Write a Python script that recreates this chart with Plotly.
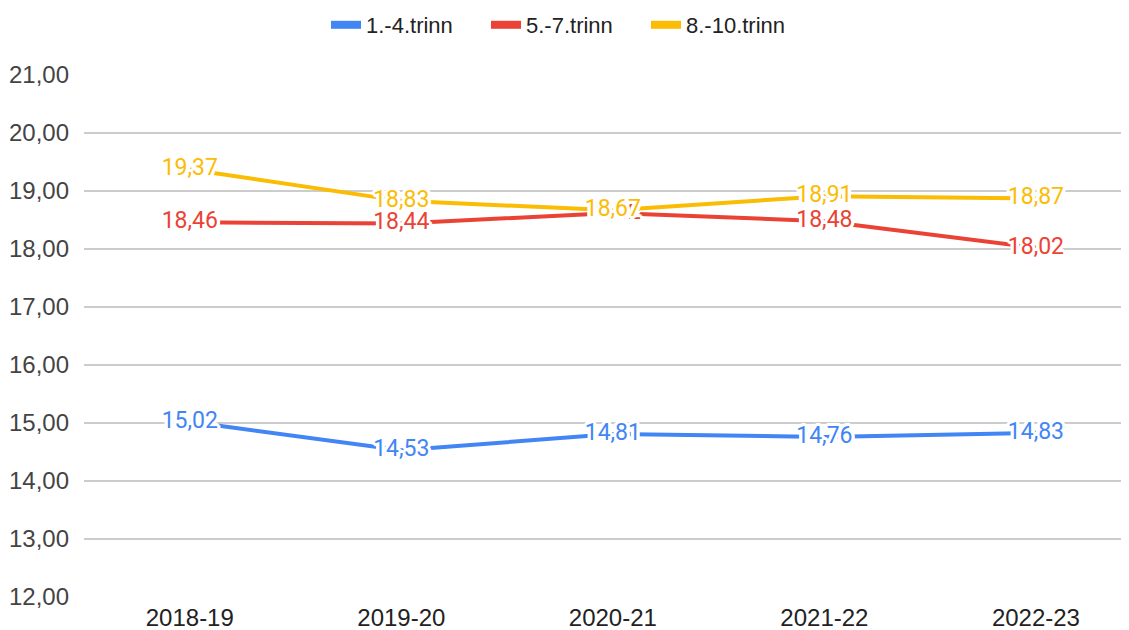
import plotly.graph_objects as go

categories = ["2018-19", "2019-20", "2020-21", "2021-22", "2022-23"]
trinn_1_4 = [15.02, 14.53, 14.81, 14.76, 14.83]
trinn_5_7 = [18.46, 18.44, 18.62, 18.48, 18.02]
trinn_8_10 = [19.37, 18.83, 18.67, 18.91, 18.87]
series_names = ["1.-4.trinn", "5.-7.trinn", "8.-10.trinn"]
colors = ["#4285F4", "#EA4335", "#FBBC04"]
y_ticks = [12, 13, 14, 15, 16, 17, 18, 19, 20, 21]

offs = []
for dx in range(-3, 4):
    for dy in range(-3, 4):
        if dx * dx + dy * dy <= 10 and (dx, dy) != (0, 0):
            offs.append(f"{dx}px {dy}px 0 #fff")
halo = ", ".join(offs)

fig = go.Figure()
for name, vals, col in zip(series_names, [trinn_1_4, trinn_5_7, trinn_8_10], colors):
    fig.add_trace(go.Scatter(
        x=categories, y=vals, name=name, mode="lines+text",
        line=dict(color=col, width=4),
        texttemplate="%{y:.2f}", textposition="middle center",
        textfont=dict(family="Roboto", size=23, color=col, shadow=halo),
        showlegend=False, cliponaxis=False,
    ))
for name, col in zip(series_names, colors):
    fig.add_trace(go.Scatter(
        x=[None], y=[None], name=name, mode="lines",
        line=dict(color=col, width=8), showlegend=True,
    ))

W, H = 1121, 622
fig.update_layout(
    width=W, height=H,
    margin=dict(l=76, r=0, t=67, b=33, autoexpand=False),
    paper_bgcolor="white", plot_bgcolor="white",
    separators=", ",
    font=dict(family="Liberation Sans, Arial", color="#222222"),
    legend=dict(orientation="h", x=318 / W, xref="container", xanchor="left",
                y=1 - 17 / H, yref="container", yanchor="middle",
                font=dict(size=22, color="#222222"), itemwidth=30,
                entrywidth=115, traceorder="normal"),
    xaxis=dict(
        type="category", range=[-0.5, 4.44], showgrid=False, zeroline=False,
        showline=False, ticks="", tickfont=dict(size=24, color="#222222"),
        ticklabelstandoff=4, automargin=False,
    ),
    yaxis=dict(
        range=[12, 21], tickvals=y_ticks, tickformat=".2f",
        showgrid=True, gridcolor="#cccccc", gridwidth=1.5, zeroline=False,
        showline=False, ticks="", tickfont=dict(size=24, color="#444444"),
        ticklabelstandoff=14, automargin=False,
    ),
)
fig.write_html("out.html")
